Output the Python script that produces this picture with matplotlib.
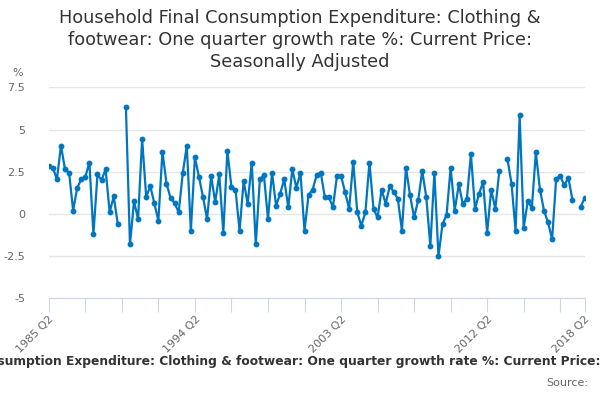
import numpy as np
import matplotlib
matplotlib.use('Agg')
from matplotlib import pyplot as plt

# quarterly growth, 1985 Q2 .. 2018 Q2 (None = missing)
growth = [2.85, 2.75, 2.05, 4.05, 2.65, 2.45, 0.2, 1.55, 2.05, 2.2,
          3.05, -1.2, 2.35, 2.0, 2.65, 0.1, 1.05, -0.6, None, 6.35,
          -1.8, 0.75, -0.3, 4.45, 1.0, 1.65, 0.65, -0.4, 3.7, 1.8,
          0.95, 0.65, 0.1, 2.4, 4.05, -1.0, 3.35, 2.2, 1.0, -0.3,
          2.25, 0.7, 2.35, -1.1, 3.75, 1.6, 1.45, -1.0, 1.95, 0.6,
          3.05, -1.8, 2.05, 2.3, -0.3, 2.45, 0.5, 1.2, 2.05, 0.4,
          2.65, 1.55, 2.45, -1.0, 1.15, 1.45, 2.3, 2.45, 1.0, 1.0,
          0.4, 2.25, 2.25, 1.3, 0.3, 3.1, 0.1, -0.7, 0.1, 3.05,
          0.3, -0.2, 1.45, 0.6, 1.65, 1.3, 0.9, -1.0, 2.75, 1.1,
          -0.2, 0.8, 2.55, 1.0, -1.9, 2.45, -2.5, -0.6, -0.05, 2.75,
          0.2, 1.75, 0.6, 0.9, 3.55, 0.3, 1.2, 1.9, -1.1, 1.45,
          0.3, 2.55, None, 3.25, 1.8, -1.0, 5.85, -0.8, 0.75, 0.35,
          3.65, 1.45, 0.2, -0.5, -1.5, 2.1, 2.25, 1.7, 2.15, 0.85,
          None, 0.4, 0.95]

quarters = ['%d Q%d' % (1985 + (q + 1) // 4, (q + 1) % 4 + 1) for q in range(len(growth))]
label_quarters = ['1985 Q2', '1994 Q2', '2003 Q2', '2012 Q2', '2018 Q2']
yticks = [-5, -2.5, 0, 2.5, 5, 7.5]
ytick_labels = ['-5', '-2.5', '0', '2.5', '5', '7.5']

vals = np.array([np.nan if v is None else v for v in growth])
x = np.arange(len(vals))

fig = plt.figure(figsize=(6, 4), dpi=100)
ax = fig.add_axes([0.0813, 0.254, 0.893, 0.5275])

ax.plot(x, vals, color='#0076c0', lw=1.6, marker='o', ms=3.2, zorder=3)

ax.set_xlim(0, len(vals) - 1)
ax.set_ylim(-5, 7.5)
ax.set_yticks(yticks)
ax.set_yticklabels(ytick_labels)
ax.grid(axis='y', color='#e6e6e6', lw=1)
ax.set_axisbelow(True)
for s in ['top', 'right', 'left']:
    ax.spines[s].set_visible(False)
ax.spines['bottom'].set_color('#ccd6eb')
ax.tick_params(axis='y', length=0, pad=17, labelsize=8, labelcolor='#666666')

tick_pos = list(range(0, len(vals), 9)) + [len(vals) - 1]
ax.set_xticks(tick_pos)
ax.set_xticklabels([quarters[p] if quarters[p] in label_quarters else '' for p in tick_pos],
                   rotation=45, ha='right', rotation_mode='anchor')
ax.tick_params(axis='x', length=10, color='#ccd6eb', labelsize=8, labelcolor='#666666', pad=1)

fig.text(0.5, 0.978, 'Household Final Consumption Expenditure: Clothing &\n'
         'footwear: One quarter growth rate %: Current Price:\nSeasonally Adjusted',
         ha='center', va='top', fontsize=12.8, color='#333333', linespacing=1.28)
fig.text(0.03, 0.817, '%', ha='center', va='center', fontsize=8, color='#666666')
fig.text(0.5, 0.095, 'Household Final Consumption Expenditure: Clothing & footwear: One quarter '
         'growth rate %: Current Price: Seasonally Adjusted',
         ha='center', va='center', fontsize=8.8, fontweight='bold', color='#333333')
fig.text(0.98, 0.043, 'Source:', ha='right', va='center', fontsize=8, color='#666666')

fig.savefig('out.png', dpi=100)
